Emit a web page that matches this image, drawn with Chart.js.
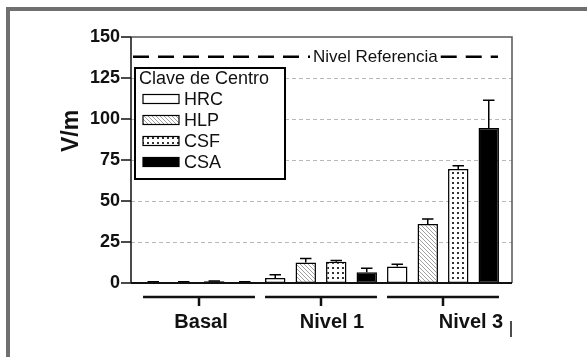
<!DOCTYPE html>
<html>
<head>
<meta charset="utf-8">
<script src="https://cdn.jsdelivr.net/npm/chart.js@4.4.0/dist/chart.umd.min.js"></script>
<style>
  html, body { margin: 0; padding: 0; background: #fff; }
  #wrap { position: relative; width: 587px; height: 357px; overflow: hidden; }
  #frame { position: absolute; left: 6px; top: 7px; width: 700px; height: 500px;
           border-left: 4px solid #707070; border-top: 4px solid #707070; }
  canvas { position: absolute; left: 0; top: 0; }
</style>
</head>
<body>
<div id="wrap">
  <div id="frame"></div>
  <canvas id="chart" width="587" height="357"></canvas>
</div>
<script>
// data
const groups = ['Basal', 'Nivel 1', 'Nivel 3'];
const centros = ['HRC', 'HLP', 'CSF', 'CSA'];
const hrc = [0.5, 3, 10];
const hlp = [0.5, 12.5, 36];
const csf = [1, 13, 69.5];
const csa = [0.5, 6.5, 94.5];
const hrcErr = [0.2, 2, 1.5];
const hlpErr = [0.2, 2.5, 3];
const csfErr = [0.2, 0.7, 2];
const csaErr = [0.2, 2.5, 17];
const yTicks = [0, 25, 50, 75, 100, 125, 150];
const referencia = 138;
const referenciaLabel = 'Nivel Referencia';
const legendTitle = 'Clave de Centro';
const yTitle = 'V/m';

const FONT = '"Liberation Sans", Arial, sans-serif';

// fill patterns
function hatchPattern() {
  const c = document.createElement('canvas');
  c.width = 4; c.height = 4;
  const g = c.getContext('2d');
  g.fillStyle = '#fff';
  g.fillRect(0, 0, 4, 4);
  g.strokeStyle = '#a0a0a0';
  g.lineWidth = 1;
  g.beginPath();
  g.moveTo(-1, -1); g.lineTo(5, 5);
  g.moveTo(-1, 3); g.lineTo(1, 5);
  g.moveTo(3, -1); g.lineTo(5, 1);
  g.stroke();
  return g.createPattern(c, 'repeat');
}

function dotPattern() {
  const c = document.createElement('canvas');
  c.width = 5; c.height = 5;
  const g = c.getContext('2d');
  g.fillStyle = '#fff';
  g.fillRect(0, 0, 5, 5);
  g.fillStyle = '#333';
  g.fillRect(2, 2, 2, 2);
  return g.createPattern(c, 'repeat');
}

const errors = [hrcErr, hlpErr, csfErr, csaErr];
const fills = ['#ffffff', hatchPattern(), dotPattern(), '#000000'];
const series = [hrc, hlp, csf, csa];

const datasets = centros.map((name, i) => ({
  label: name,
  data: series[i],
  backgroundColor: fills[i],
  borderColor: '#000',
  borderWidth: 1.5,
  borderSkipped: false,
  barPercentage: 0.67,
  categoryPercentage: 1
}));

const AXIS_GAP = 7;   // y axis sits a little left of first bar slot
const RIGHT_GAP = 8;

const decor = {
  id: 'decor',
  beforeDatasetsDraw(chart) {
    const { ctx, chartArea, scales: { y } } = chart;
    const left = chartArea.left - AXIS_GAP;
    const right = chartArea.right + RIGHT_GAP;
    ctx.save();
    // light dashed gridlines
    ctx.strokeStyle = '#b8b8b8';
    ctx.lineWidth = 1;
    ctx.setLineDash([4, 3]);
    yTicks.forEach(v => {
      if (v === 0 || v === 150) return;
      const py = Math.round(y.getPixelForValue(v)) + 0.5;
      ctx.beginPath();
      ctx.moveTo(left, py);
      ctx.lineTo(right, py);
      ctx.stroke();
    });
    // reference line
    const ry = y.getPixelForValue(referencia);
    ctx.font = '17px ' + FONT;
    const tw = ctx.measureText(referenciaLabel).width;
    const tx = 313;
    ctx.strokeStyle = '#000';
    ctx.lineWidth = 2.5;
    ctx.setLineDash([16, 9]);
    ctx.beginPath();
    ctx.moveTo(left + 2, ry);
    ctx.lineTo(tx - 3, ry);
    ctx.stroke();
    ctx.beginPath();
    ctx.moveTo(tx + tw + 3, ry);
    ctx.lineTo(right - 14, ry);
    ctx.stroke();
    ctx.setLineDash([]);
    ctx.fillStyle = '#111';
    ctx.textBaseline = 'middle';
    ctx.textAlign = 'left';
    ctx.fillText(referenciaLabel, tx, ry + 1);
    ctx.restore();
  },
  afterDatasetsDraw(chart) {
    const { ctx, chartArea, scales: { y } } = chart;
    const left = chartArea.left - AXIS_GAP;
    const right = chartArea.right + RIGHT_GAP;
    const top = y.getPixelForValue(150);
    const zero = y.getPixelForValue(0);
    ctx.save();

    // error bars (upper only)
    ctx.strokeStyle = '#000';
    ctx.lineWidth = 1.5;
    chart.data.datasets.forEach((ds, i) => {
      const meta = chart.getDatasetMeta(i);
      meta.data.forEach((bar, j) => {
        const yTop = y.getPixelForValue(ds.data[j] + errors[i][j]);
        const half = bar.width * 0.28;
        ctx.beginPath();
        ctx.moveTo(bar.x, bar.y);
        ctx.lineTo(bar.x, yTop);
        ctx.moveTo(bar.x - half, yTop);
        ctx.lineTo(bar.x + half, yTop);
        ctx.stroke();
      });
    });

    // frame
    ctx.strokeStyle = '#555';
    ctx.lineWidth = 1.5;
    ctx.beginPath();
    ctx.moveTo(left, top);
    ctx.lineTo(right, top);
    ctx.lineTo(right, zero);
    ctx.stroke();

    // axes
    ctx.strokeStyle = '#111';
    ctx.lineWidth = 1.5;
    ctx.beginPath();
    ctx.moveTo(left, top);
    ctx.lineTo(left, zero);
    yTicks.forEach(v => {
      const py = y.getPixelForValue(v);
      ctx.moveTo(left - 10, py);
      ctx.lineTo(left, py);
    });
    ctx.stroke();
    ctx.lineWidth = 2;
    ctx.beginPath();
    ctx.moveTo(left, zero);
    ctx.lineTo(right, zero);
    ctx.stroke();

    // y title
    ctx.save();
    ctx.translate(72, 131);
    ctx.rotate(-Math.PI / 2);
    ctx.font = 'bold 23px ' + FONT;
    ctx.fillStyle = '#111';
    ctx.textAlign = 'center';
    ctx.textBaseline = 'middle';
    ctx.fillText(yTitle, 0, 0);
    ctx.restore();

    // group brackets and labels
    const shift = [2, 11, 28];
    const first = chart.getDatasetMeta(0);
    const last = chart.getDatasetMeta(chart.data.datasets.length - 1);
    const lineY = zero + 14;
    groups.forEach((g, j) => {
      const a = first.data[j], b = last.data[j];
      const x1 = a.x - a.width / 2, x2 = b.x + b.width / 2;
      const cx = (x1 + x2) / 2;
      ctx.strokeStyle = '#111';
      ctx.lineWidth = 2.5;
      ctx.beginPath();
      ctx.moveTo(x1, lineY);
      ctx.lineTo(x2, lineY);
      ctx.moveTo(cx, lineY);
      ctx.lineTo(cx, lineY + 9);
      ctx.stroke();
      ctx.font = 'bold 20px ' + FONT;
      ctx.fillStyle = '#111';
      ctx.textAlign = 'center';
      ctx.textBaseline = 'middle';
      ctx.fillText(g, cx + shift[j], lineY + 25);
    });
    // stray mark at lower right
    ctx.lineWidth = 1.5;
    ctx.beginPath();
    ctx.moveTo(right - 1, lineY + 24);
    ctx.lineTo(right - 1, lineY + 40);
    ctx.stroke();

    // legend box
    const lx = 135, ly = 68, lw = 150, lh = 111;
    ctx.fillStyle = '#fff';
    ctx.fillRect(lx, ly, lw, lh);
    ctx.strokeStyle = '#000';
    ctx.lineWidth = 2;
    ctx.strokeRect(lx, ly, lw, lh);
    ctx.fillStyle = '#111';
    ctx.font = '18px ' + FONT;
    ctx.textAlign = 'left';
    ctx.textBaseline = 'middle';
    ctx.fillText(legendTitle, lx + 4, ly + 11);
    chart.data.datasets.forEach((ds, i) => {
      const iy = ly + 31 + i * 21;
      ctx.fillStyle = ds.backgroundColor;
      ctx.fillRect(lx + 8, iy - 4.5, 36, 9);
      ctx.strokeStyle = '#000';
      ctx.lineWidth = 1.2;
      ctx.strokeRect(lx + 8, iy - 4.5, 36, 9);
      ctx.fillStyle = '#111';
      ctx.fillText(ds.label, lx + 49, iy + 1);
    });

    ctx.restore();
  }
};

const ctx = document.getElementById('chart').getContext('2d');
new Chart(ctx, {
  type: 'bar',
  data: { labels: groups, datasets: datasets },
  options: {
    responsive: false,
    animation: false,
    devicePixelRatio: 1,
    layout: { padding: { left: 0, top: 37, right: 83, bottom: 74 } },
    plugins: {
      legend: { display: false },
      title: { display: false },
      tooltip: { enabled: false }
    },
    scales: {
      x: { display: false },
      y: {
        min: 0,
        max: 150,
        afterFit: (scale) => { scale.width = 138; },
        afterBuildTicks: (scale) => { scale.ticks = yTicks.map(v => ({ value: v })); },
        ticks: {
          padding: 18,
          color: '#111',
          font: { family: FONT, size: 18, weight: 'bold' }
        },
        grid: { display: false, drawTicks: false },
        border: { display: false }
      }
    }
  },
  plugins: [decor]
});
</script>
</body>
</html>
